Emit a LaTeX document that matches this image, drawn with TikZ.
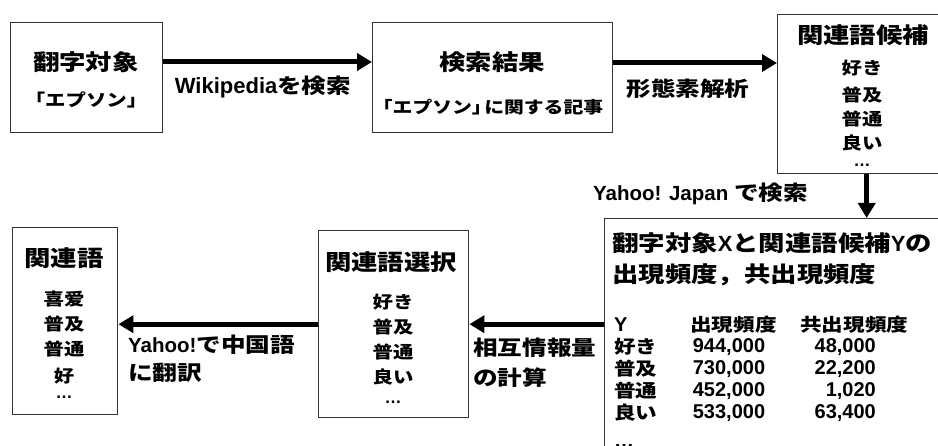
\documentclass[tikz,border=0pt]{standalone}
\usepackage{fontspec}
\setmainfont{Liberation Sans}
\newfontfamily\jp{Noto Sans CJK JP}[FakeStretch=1.2]
\usetikzlibrary{arrows.meta}
\newcommand\J[1]{{\jp #1}}
\begin{document}
\begin{tikzpicture}[x=1pt,y=-1pt,
  box/.style={draw=black!80, line width=1.4pt, anchor=north west, inner sep=0pt},
  txt/.style={inner sep=0pt, font=\bfseries\fontsize{#1}{#1}\selectfont},
  txt/.default=18,
  ttl/.style={txt=22},
  itm/.style={txt=17},
  lab/.style={txt=20.5},
  tab/.style={txt=18},
  num/.style={txt=20},
  arr/.style={line width=5pt, -{Triangle[length=15pt,width=17pt]}}]
\clip (0,0) rectangle (938,446);
\fill[white] (0,0) rectangle (938,446);
% boxes
\node[box, minimum width=152pt, minimum height=110pt] (b1) at (10,22) {};
\node[box, minimum width=240pt, minimum height=110pt] (b2) at (372,22) {};
\node[box, minimum width=178pt, minimum height=159pt] (b3) at (777,14) {};
\node[box, minimum width=360pt, minimum height=260pt] (b4) at (604,218) {};
\node[box, minimum width=150pt, minimum height=187pt] (b5) at (318,230) {};
\node[box, minimum width=105pt, minimum height=187pt] (b6) at (12,227) {};
% box 1
\node[ttl] (t1) at (86,62) {\J{翻字対象}};
\node[itm] (s1) at (86,100) {\J{「エプソン」}};
% box 2
\node[ttl] (t2) at (492,62) {\J{検索結果}};
\node[txt=16.5] (s2) at (488,107) {\J{「エプソン」\kern-0.45em に関する記事}};
% box 3
\node[ttl] (t3) at (863,35) {\J{関連語候補}};
\node[itm] (c1) at (862,68) {\J{好き}};
\node[itm] (c2) at (862,95) {\J{普及}};
\node[itm] (c3) at (862,119) {\J{普通}};
\node[itm] (c4) at (862,143) {\J{良い}};
\node[itm] (c5) at (862,165) {…};
% box 4
\node[ttl, anchor=west] (t4a) at (612,243) {\J{翻字対象}X\J{と関連語候補}Y\J{の}};
\node[ttl, anchor=west] (t4b) at (612,275) {\J{出現頻度，共出現頻度}};
\node[num, anchor=west] (h1) at (614,325) {Y};
\node[tab, anchor=west] (h2) at (690,325) {\J{出現頻度}};
\node[tab, anchor=west] (h3) at (800,325) {\J{共出現頻度}};
\node[tab, anchor=west] (r1a) at (614,347) {\J{好き}};
\node[num] (r1b) at (729,347) {944,000};
\node[num, anchor=east] (r1c) at (876,347) {48,000};
\node[tab, anchor=west] (r2a) at (614,369) {\J{普及}};
\node[num] (r2b) at (729,369) {730,000};
\node[num, anchor=east] (r2c) at (876,369) {22,200};
\node[tab, anchor=west] (r3a) at (614,391) {\J{普通}};
\node[num] (r3b) at (729,391) {452,000};
\node[num, anchor=east] (r3c) at (876,391) {1,020};
\node[tab, anchor=west] (r4a) at (614,413) {\J{良い}};
\node[num] (r4b) at (729,413) {533,000};
\node[num, anchor=east] (r4c) at (876,413) {63,400};
\node[num, anchor=west] (r5a) at (614,446) {…};
% box 5
\node[ttl] (t5) at (391,262) {\J{関連語選択}};
\node[itm] (d1) at (393,302) {\J{好き}};
\node[itm] (d2) at (393,327) {\J{普及}};
\node[itm] (d3) at (393,352) {\J{普通}};
\node[itm] (d4) at (393,377) {\J{良い}};
\node[itm] (d5) at (393,402) {…};
% box 6
\node[ttl] (t6) at (64,258) {\J{関連語}};
\node[itm] (e1) at (64,299) {\J{喜爱}};
\node[itm] (e2) at (64,324) {\J{普及}};
\node[itm] (e3) at (64,349) {\J{普通}};
\node[itm] (e4) at (64,376) {\J{好}};
\node[itm] (e5) at (64,397) {…};
% arrows
\draw[arr] ([yshift=-40pt]b1.north east) -- ([yshift=-40pt]b1.north east -| b2.west);
\draw[arr] ([yshift=-41pt]b2.north east) -- ([yshift=-41pt]b2.north east -| b3.west);
\draw[arr] (b3.south) -- (b3.south |- b4.north);
\draw[arr] (b4.west |- b5.east) -- (b5.east);
\draw[arr] (b5.west) -- (b5.west -| b6.east);
% labels
\node[lab] (l1) at (263,87) {\fontsize{22}{22}\selectfont Wikipedia\fontsize{20.5}{20.5}\selectfont\J{を検索}};
\node[lab] (l2) at (688,89) {\J{形態素解析}};
\node[lab, anchor=east] (l3) at (808,194) {Yahoo! Japan \J{で検索}};
\node[lab, anchor=west] (l4a) at (473,348) {\J{相互情報量}};
\node[lab, anchor=west] (l4b) at (473,378) {\J{の計算}};
\node[lab, anchor=west] (l5a) at (128,345) {Yahoo!\J{で中国語}};
\node[lab, anchor=west] (l5b) at (128,373) {\J{に翻訳}};
\end{tikzpicture}
\end{document}
